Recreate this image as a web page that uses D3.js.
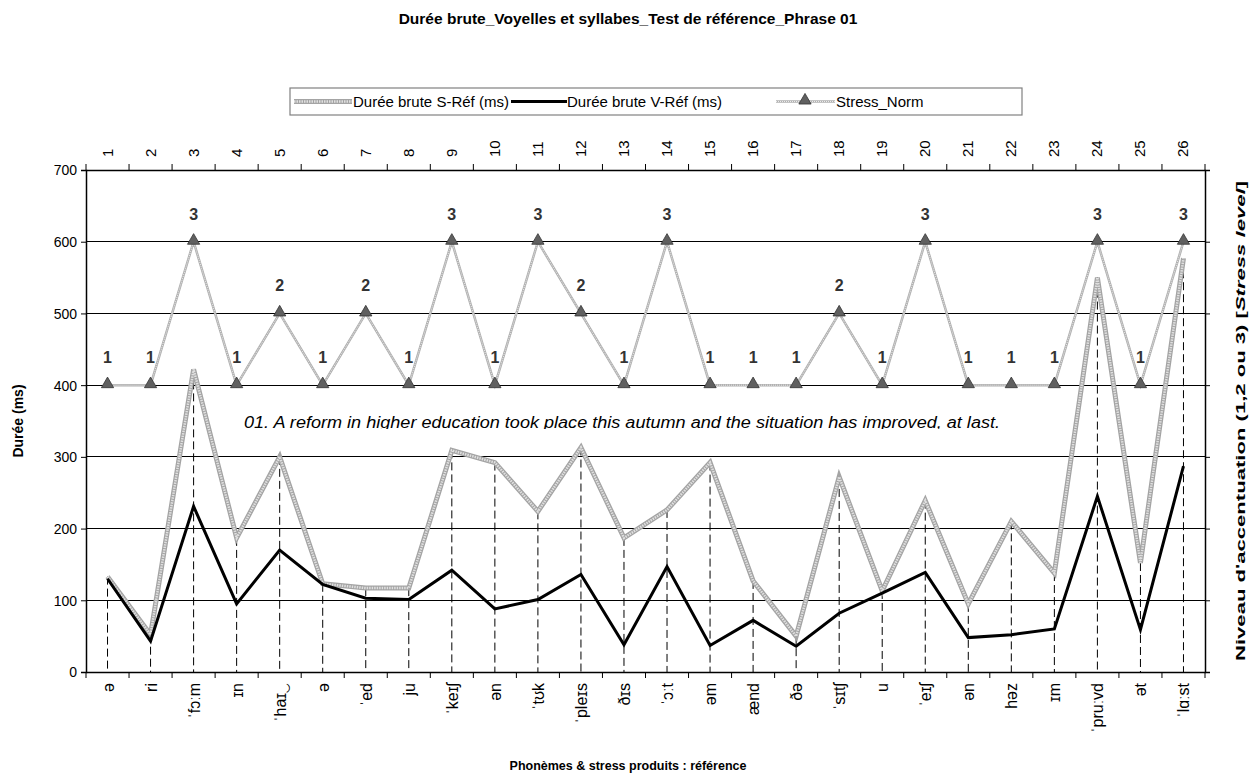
<!DOCTYPE html>
<html><head><meta charset="utf-8">
<script src="https://cdn.jsdelivr.net/npm/d3@7"></script>
<style>
html,body{margin:0;padding:0;background:#fff;}
svg text{font-family:"Liberation Sans",Arial,sans-serif;}
</style></head>
<body><svg id="c" width="1256" height="778"></svg>
<script>
const indices = d3.range(1, 27).map(String);
const phonemes = ["ə","ri","ˈfɔːm","ɪn","ˈhaɪ‿","ə","ˈed","ju","ˈkeɪʃ","ən","ˈtʊk","ˈpleɪs","ðɪs","ˈɔːt","əm","ænd","ðə","ˈsɪtʃ","u","ˈeɪʃ","ən","həz","ɪm","ˈpruːvd","ət","ˈlɑːst"];
const durS = [133,52,422,187,300,123,117,117,309,292,224,313,187,226,292,127,50,272,113,239,95,210,138,550,152,577];
const durV = [130,43,231,95,170,122,103,101,142,88,101,136,38,147,37,72,36,82,110,139,48,52,60,245,59,287];
const stress = [1,1,3,1,2,1,2,1,3,1,3,2,1,3,1,1,1,2,1,3,1,1,1,3,1,3];
const yTicks = [0,100,200,300,400,500,600,700];

const svg = d3.select("#c");
const L = 86, R = 1205, T = 170, B = 672;
const x = d3.scaleBand().domain(indices).range([L, R]);
const xc = i => x(indices[i]) + x.bandwidth() / 2;
const y = d3.scaleLinear().domain([0, 700]).range([B, T]);
const y2 = d3.scaleLinear().domain([-3, 4]).range([B, T]);

// title
svg.append("text").attr("x", 628).attr("y", 24).attr("text-anchor", "middle")
  .attr("font-size", 15.5).attr("font-weight", "bold")
  .text("Durée brute_Voyelles et syllabes_Test de référence_Phrase 01");

// gridlines
svg.append("g").selectAll("line").data(yTicks.slice(1)).join("line")
  .attr("x1", L).attr("x2", R).attr("y1", d => y(d)).attr("y2", d => y(d))
  .attr("stroke", "#000").attr("stroke-width", 1).attr("shape-rendering", "crispEdges");

// axes
const gl = svg.append("g").attr("transform", `translate(${L},0)`)
  .call(d3.axisLeft(y).tickValues(yTicks).tickSize(5).tickPadding(4));
gl.selectAll("text").attr("font-size", 14).attr("fill", "#000").attr("dy", "0.35em");
const gr = svg.append("g").attr("transform", `translate(${R},0)`)
  .call(d3.axisRight(y).tickValues(yTicks).tickSize(5).tickFormat(""));
const gb = svg.append("g").attr("transform", `translate(0,${B})`)
  .call(d3.axisBottom(x).tickSize(0).tickFormat(""));
const gt = svg.append("g").attr("transform", `translate(0,${T})`)
  .call(d3.axisTop(x).tickSize(0).tickFormat(""));
[gl, gr, gb, gt].forEach(g => { g.select(".domain").attr("stroke", "#000").attr("stroke-width", 1.5); g.selectAll("line").attr("stroke", "#000"); });

// band ticks top and bottom
const bounds = d3.range(0, 27).map(i => L + i * x.bandwidth());
svg.append("g").selectAll("line").data(bounds).join("line")
  .attr("x1", d => d).attr("x2", d => d).attr("y1", B).attr("y2", B + 6).attr("stroke", "#000");
svg.append("g").selectAll("line").data(bounds).join("line")
  .attr("x1", d => d).attr("x2", d => d).attr("y1", T).attr("y2", T - 6).attr("stroke", "#000");

// top index labels
svg.append("g").selectAll("text").data(indices).join("text")
  .attr("transform", (d, i) => `translate(${xc(i) + 5},157) rotate(-90)`)
  .attr("text-anchor", "start").attr("font-size", 15).text(d => d);

// bottom phoneme labels
svg.append("g").selectAll("text").data(phonemes).join("text")
  .attr("transform", (d, i) => `translate(${xc(i) + 6},683) rotate(-90)`)
  .attr("text-anchor", "end").attr("font-family", "DejaVu Sans, Liberation Sans").attr("font-size", 16).text(d => d);

// drop lines
svg.append("g").selectAll("line").data(indices).join("line")
  .attr("x1", (d, i) => xc(i)).attr("x2", (d, i) => xc(i))
  .attr("y1", (d, i) => y(Math.max(durS[i], durV[i]))).attr("y2", B)
  .attr("stroke", "#000").attr("stroke-width", 1).attr("stroke-dasharray", "8,4");

// sentence annotation (clipped)
svg.append("clipPath").attr("id", "sc").append("rect").attr("x", 200).attr("y", 405).attr("width", 900).attr("height", 24);
svg.append("text").attr("clip-path", "url(#sc)").attr("x", 244).attr("y", 428)
  .attr("font-size", 16).attr("font-style", "italic")
  .attr("textLength", 756).attr("lengthAdjust", "spacingAndGlyphs")
  .text("01. A reform in higher education took place this autumn and the situation has improved, at last.");

// stress line
const lineSt = d3.line().x((d, i) => xc(i)).y(d => y2(d));
svg.append("path").datum(stress).attr("d", lineSt).attr("fill", "none").attr("stroke", "#b0b0b0").attr("stroke-width", 2.5);
svg.append("path").datum(stress).attr("d", lineSt).attr("fill", "none").attr("stroke", "#ececec").attr("stroke-width", 1).attr("stroke-dasharray", "1,1");

// S line (hatched gray)
const lineS = d3.line().x((d, i) => xc(i)).y(d => y(d));
svg.append("path").datum(durS).attr("d", lineS).attr("fill", "none").attr("stroke", "#a4a4a4").attr("stroke-width", 5).attr("stroke-linejoin", "miter");
svg.append("path").datum(durS).attr("d", lineS).attr("fill", "none").attr("stroke", "#e0e0e0").attr("stroke-width", 2.5).attr("stroke-dasharray", "1.5,1");

// V line
svg.append("path").datum(durV).attr("d", lineS).attr("fill", "none").attr("stroke", "#000").attr("stroke-width", 3).attr("stroke-linejoin", "miter");

// stress markers
const tri = d3.symbol().type(d3.symbolTriangle).size(65);
svg.append("g").selectAll("path").data(stress).join("path")
  .attr("d", tri).attr("transform", (d, i) => `translate(${xc(i)},${y2(d) - 1})`)
  .attr("fill", "#606060").attr("stroke", "#333").attr("stroke-width", 0.8);
svg.append("g").selectAll("text").data(stress).join("text")
  .attr("x", (d, i) => xc(i)).attr("y", d => y2(d) - 22).attr("text-anchor", "middle")
  .attr("font-size", 16).attr("font-weight", "bold").attr("fill", "#333").text(d => d);

// axis titles
svg.append("text").attr("transform", "translate(23,421) rotate(-90)").attr("text-anchor", "middle")
  .attr("font-size", 14).attr("font-weight", "bold").text("Durée (ms)");
const rt = svg.append("text").attr("transform", "translate(1245,421) rotate(-90)").attr("text-anchor", "middle")
  .attr("font-size", 13.5).attr("font-weight", "bold")
  .attr("textLength", 480).attr("lengthAdjust", "spacingAndGlyphs");
rt.append("tspan").text("Niveau d'accentuation (1,2 ou 3) [");
rt.append("tspan").attr("font-style", "italic").text("Stress level");
rt.append("tspan").text("]");
svg.append("text").attr("x", 628).attr("y", 770).attr("text-anchor", "middle")
  .attr("font-size", 12.5).attr("font-weight", "bold").text("Phonèmes & stress  produits : référence");

// legend
const lg = svg.append("g");
lg.append("rect").attr("x", 290).attr("y", 88).attr("width", 732).attr("height", 27)
  .attr("fill", "#fff").attr("stroke", "#808080").attr("stroke-width", 1.2);
const ly = 101.5;
lg.append("line").attr("x1", 294).attr("x2", 352).attr("y1", ly).attr("y2", ly).attr("stroke", "#a4a4a4").attr("stroke-width", 5);
lg.append("line").attr("x1", 294).attr("x2", 352).attr("y1", ly).attr("y2", ly).attr("stroke", "#e0e0e0").attr("stroke-width", 2.5).attr("stroke-dasharray", "1.5,1");
lg.append("text").attr("x", 353).attr("y", ly + 5.5).attr("font-size", 15).text("Durée brute S-Réf (ms)");
lg.append("line").attr("x1", 511).attr("x2", 567).attr("y1", ly).attr("y2", ly).attr("stroke", "#000").attr("stroke-width", 3);
lg.append("text").attr("x", 567).attr("y", ly + 5.5).attr("font-size", 15).text("Durée brute V-Réf (ms)");
lg.append("line").attr("x1", 776).attr("x2", 835).attr("y1", ly).attr("y2", ly).attr("stroke", "#b0b0b0").attr("stroke-width", 2.5);
lg.append("line").attr("x1", 776).attr("x2", 835).attr("y1", ly).attr("y2", ly).attr("stroke", "#ececec").attr("stroke-width", 1).attr("stroke-dasharray", "1,1");
lg.append("path").attr("d", tri).attr("transform", `translate(805,${ly - 1})`).attr("fill", "#606060").attr("stroke", "#333").attr("stroke-width", 0.8);
lg.append("text").attr("x", 836).attr("y", ly + 5.5).attr("font-size", 15).text("Stress_Norm");
</script></body></html>
